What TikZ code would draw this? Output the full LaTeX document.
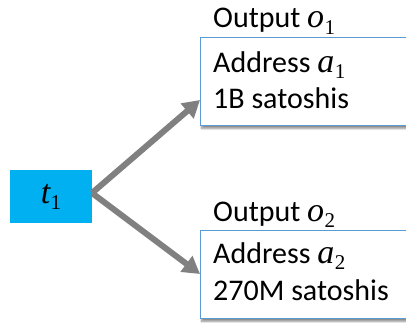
\documentclass[tikz,border=0pt]{standalone}
\usepackage{fontspec}
\setmainfont{Carlito}
\newfontfamily\mfont{Liberation Serif}
\newcommand{\mvar}[2]{{\mfont\fontsize{34}{36}\selectfont\itshape #1}\kern0.5pt\raisebox{-6pt}{\mfont\fontsize{21}{22}\selectfont #2}}
\usetikzlibrary{arrows.meta,shadows.blur}
\definecolor{tcyan}{HTML}{00B0F0}
\definecolor{bblue}{HTML}{5B9BD5}
\definecolor{agray}{HTML}{808080}
\tikzset{
  outbox/.style={draw=bblue,line width=1pt,fill=white,rectangle,minimum width=220pt,minimum height=88pt,anchor=north west,inner sep=0pt,
    blur shadow={shadow xshift=1pt,shadow yshift=-3pt,shadow blur steps=6,shadow opacity=45}},
  txt/.style={anchor=base west,inner sep=0pt,font=\fontsize{30}{36}\selectfont},
  tbox/.style={fill=tcyan,minimum width=82pt,minimum height=53pt,inner sep=0pt,font=\fontsize{30}{36}\selectfont},
  flow/.style={draw=agray,line width=6pt,-{Triangle[length=17pt,width=19pt]}}
}
\begin{document}
\begin{tikzpicture}[x=1pt,y=1pt]
\useasboundingbox (0,0) rectangle (406,322);
\begin{scope}
\clip (0,0) rectangle (406,322);
\node[outbox] (b1) at (200,285) {};
\node[outbox] (b2) at (200,92) {};
\end{scope}
\node[tbox] (t1) at (51,125.5) {\mvar{t}{1}};
\node[txt] (o1) at (213,294) {Output \mvar{o}{1}};
\node[txt] (a1) at (213,250) {Address \mvar{a}{1}};
\node[txt] (s1) at (213,214) {1B satoshis};
\node[txt] (o2) at (213,101) {Output \mvar{o}{2}};
\node[txt] (a2) at (213,59) {Address \mvar{a}{2}};
\node[txt] (s2) at (213,22) {270M satoshis};
\coordinate (e1) at (200,222);
\coordinate (e2) at (200,48);
\coordinate (st) at (92,129);
\draw[flow] (st) -- (e1);
\draw[flow] (st) -- (e2);
\end{tikzpicture}
\end{document}
